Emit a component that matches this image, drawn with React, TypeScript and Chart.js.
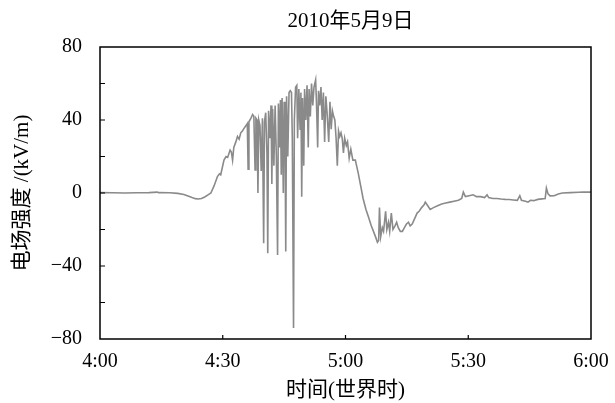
import React, { useEffect, useRef } from "react";
import { Chart, registerables } from "chart.js";

Chart.register(...registerables);

// Minutes after 4:00 UT
const minutes: number[] = [
  0, 3, 6, 9, 12, 14, 14.3, 17, 19, 20.5, 21.5, 22.5, 23.3, 24, 24.8, 25.6, 26.4, 27.1, 27.9, 28.7,
  29.2, 29.5, 30.3, 30.8, 31.2, 31.8, 32.1, 32.4, 32.7, 33.2, 33.6, 34, 34.4, 34.8, 35.2, 35.7, 36.0, 36.2, 36.4, 36.9,
  37.3, 37.6, 37.9, 38.1, 38.4, 38.6, 38.8, 39.1, 39.4, 39.7, 40.0, 40.2, 40.5, 40.8, 41.0, 41.2, 41.5, 41.8, 42.0, 42.2,
  42.5, 42.8, 43.1, 43.4, 43.6, 43.9, 44.1, 44.3, 44.5, 44.8, 45.0, 45.2, 45.4, 45.6, 45.9, 46.2, 46.5, 46.8, 47.0, 47.3,
  47.5, 47.8, 48.1, 48.3, 48.6, 48.9, 49.1, 49.3, 49.5, 49.8, 50.0, 50.3, 50.6, 50.9, 51.1, 51.4, 51.7, 52.0, 52.3, 52.7,
  52.9, 53.2, 53.4, 53.7, 54.0, 54.3, 54.6, 54.9, 55.2, 55.5, 55.9, 56.2, 56.5, 56.8, 57.1, 57.4, 57.7, 58.0, 58.3, 58.6,
  58.9, 59.2, 59.5, 59.8, 60.2, 60.5, 60.9, 61.3, 61.8, 62.4, 63.1, 63.7, 64.3, 65.0, 65.6, 66.3, 67.0, 67.5, 67.8, 68.1,
  68.3, 68.6, 69.0, 69.3, 69.8, 70.1, 70.5, 70.8, 71.2, 71.6, 72.1, 72.5, 72.9, 73.4, 73.9, 74.4, 74.9, 75.4, 75.8, 76.3,
  76.9, 77.5, 78.0, 78.6, 79.2, 79.5, 80.1, 80.7, 81.5, 82.5, 83.5, 84.5, 85.5, 86.5, 87.6, 88.4, 88.8, 89.3, 90.2, 91.2,
  92, 93, 94, 94.6, 95, 96, 97, 98, 99, 100, 101, 102, 102.6, 103, 104, 104.6, 105.2, 106, 107, 108,
  108.8, 109.1, 109.5, 110, 111, 112, 113, 115, 117, 118, 120,
];

// Electric field strength, kV/m
const fieldKV: number[] = [
  0.2, 0.1, 0, 0.1, 0.2, 0.5, 0.2, 0.1, -0.2, -0.8, -1.6, -2.5, -3.1, -3.3, -3.0, -2.2, -1.0, 0, 4, 9,
  10.5, 10, 18, 20, 19.5, 23.5, 22.5, 18, 25, 28, 31, 29.5, 33, 34, 35.4, 37, 38, 13, 39, 41,
  43, 42, 12.6, 41, 40, 0, 40, 37, 12, 41, -27.5, 39, 44, 22, -33, 45, 30, 48, 5, 46,
  15, 48, 20, -34, 49, 25, 51, 10, 52, 0, 50, 38, -32, 53, 20, 55, 56, 55, 30, -74,
  40, 58, 59, 30, 57, 35, 55, -2, 52, 15, 57, 40, 59, 25, 57, 42, 60, 48, 58, 62,
  50, 25, 56, 48, 58, 40, 55, 28, 53, 44, 28, 50, 35, 45, 42, 40, 30, 15, 34, 31,
  33, 30, 22, 30, 26, 28, 19, 24, 18, 18, 11, 4, -3, -9, -13, -18, -22, -25, -27, -26,
  -8, -24, -19, -21, -10, -20, -16, -21, -11, -20, -18, -16, -19, -21, -21, -19, -17, -16, -18, -17,
  -14, -11, -10, -8, -6.5, -5, -7, -9, -8, -7, -6, -5.5, -5, -4.5, -4, -3, 0.5, -2, -1.5, -1,
  -2, -2, -2.5, -1, -2.5, -3, -3, -3.3, -3.5, -3.6, -3.8, -4, -1.5, -4, -4.5, -5, -4, -4.2, -3.5, -3.2,
  -3, 2.7, -0.5, -1.6, -1.5, -0.5, 0, 0.2, 0.4, 0.5, 0.5,
];

const xTickMinutes: number[] = [0, 30, 60, 90, 120];
const yLabelledTicks: number[] = [80, 40, 0, -40, -80];

const TITLE = "2010年5月9日";
const X_TITLE = "时间(世界时)";
const Y_TITLE = "电场强度 /(kV/m)";

const FONT = "'Liberation Serif', 'Noto Sans CJK SC', serif";

const formatClock = (m: number) => {
  const h = 4 + Math.floor(m / 60);
  const mm = Math.round(m % 60);
  return `${h}:${String(mm).padStart(2, "0")}`;
};

// Title above the plot, plot frame, and inward tick marks on the left and bottom edges
const framePlugin = {
  id: "frameTicks",
  afterDraw(chart: any) {
    const { ctx, chartArea: a, scales } = chart;
    ctx.save();
    ctx.fillStyle = "#000";
    ctx.font = `21px ${FONT}`;
    ctx.textAlign = "center";
    ctx.textBaseline = "middle";
    ctx.fillText(TITLE, (a.left + a.right) / 2 + 5, 21);

    ctx.strokeStyle = "#000";
    ctx.lineWidth = 1.5;
    ctx.strokeRect(a.left, a.top, a.right - a.left, a.bottom - a.top);
    ctx.lineWidth = 1.2;
    ctx.beginPath();
    for (const t of scales.y.ticks) {
      if (t.value <= -80 || t.value >= 80) continue;
      const py = scales.y.getPixelForValue(t.value);
      ctx.moveTo(a.left, py);
      ctx.lineTo(a.left + 5, py);
    }
    for (const t of scales.x.ticks) {
      if (t.value <= 0 || t.value >= 120) continue;
      const px = scales.x.getPixelForValue(t.value);
      ctx.moveTo(px, a.bottom);
      ctx.lineTo(px, a.bottom - 4);
    }
    ctx.stroke();
    ctx.restore();
  },
};

export default function App() {
  const canvasRef = useRef<HTMLCanvasElement | null>(null);

  useEffect(() => {
    const canvas = canvasRef.current;
    if (!canvas) return;
    const chart = new Chart(canvas, {
      type: "line",
      data: {
        datasets: [
          {
            data: minutes.map((m, i) => ({ x: m, y: fieldKV[i] })),
            borderColor: "#8a8a8a",
            borderWidth: 1.6,
            pointRadius: 0,
            tension: 0,
          },
        ],
      },
      options: {
        responsive: false,
        animation: false,
        layout: { padding: { left: 0, right: 24, top: 47, bottom: 0 } },
        plugins: {
          legend: { display: false },
          tooltip: { enabled: false },
          title: { display: false },
        },
        scales: {
          x: {
            type: "linear",
            min: 0,
            max: 120,
            afterBuildTicks: (scale: any) => {
              scale.ticks = xTickMinutes.map((v) => ({ value: v }));
            },
            afterFit: (scale: any) => {
              scale.height = 64;
            },
            grid: { display: false },
            border: { display: false },
            ticks: {
              color: "#000",
              font: { family: FONT, size: 20 },
              padding: 3,
              maxRotation: 0,
              autoSkip: false,
              callback: (v: any) => formatClock(Number(v)),
            },
            title: {
              display: true,
              text: X_TITLE,
              color: "#000",
              font: { family: FONT, size: 21 },
              padding: { top: 0, bottom: 0 },
            },
          },
          y: {
            min: -80,
            max: 80,
            afterFit: (scale: any) => {
              scale.width = 100;
            },
            grid: { display: false },
            border: { display: false },
            ticks: {
              stepSize: 20,
              autoSkip: false,
              color: "#000",
              font: { family: FONT, size: 20 },
              padding: 10,
              callback: (v: any) => {
                const n = Number(v);
                if (!yLabelledTicks.includes(n)) return "";
                return n < 0 ? "\u2212" + Math.abs(n) : String(n);
              },
            },
            title: {
              display: true,
              text: Y_TITLE,
              color: "#000",
              font: { family: FONT, size: 21 },
              padding: { top: 10, bottom: 0 },
            },
          },
        },
      },
      plugins: [framePlugin],
    });
    return () => chart.destroy();
  }, []);

  return (
    <div style={{ position: "fixed", left: 0, top: 0, width: 615, height: 403, background: "#fff" }}>
      <canvas ref={canvasRef} width={615} height={403} />
    </div>
  );
}
